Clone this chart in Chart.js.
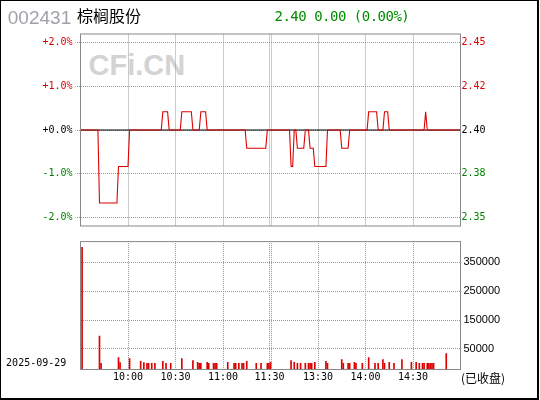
<!DOCTYPE html>
<html><head><meta charset="utf-8">
<script src="https://cdn.jsdelivr.net/npm/chart.js@4/dist/chart.umd.min.js"></script>
<style>
html,body{margin:0;padding:0;background:#fff;}
#wrap{position:relative;width:540px;height:400px;overflow:hidden;background:#fff;}
#frame{position:absolute;left:0;top:0;width:539px;height:400px;box-sizing:border-box;border:1px solid #000;border-right-width:2px;border-bottom-width:2px;pointer-events:none;}
.t{position:absolute;white-space:nowrap;}
canvas{position:absolute;left:0;}
#wm{font:bold 29px "Liberation Sans",Arial,sans-serif;line-height:29px;color:#d3d3d3;left:88.6px;top:50.5px;}
#code{font:19px "Liberation Sans",Arial,sans-serif;line-height:19px;color:#a0a0a8;left:7.8px;top:8px;}
#name{font:16px "Noto Sans CJK SC",sans-serif;line-height:16px;color:#000;left:77px;top:7.3px;}
#quote{font:14px "DejaVu Sans Mono",monospace;letter-spacing:-0.5px;line-height:14px;color:#008c00;left:274.5px;top:8.85px;}
#date{font:10px "DejaVu Sans Mono",monospace;line-height:10px;color:#000;left:6.1px;top:358.2px;}
#closed{font:12px "Noto Sans CJK SC",sans-serif;line-height:12px;color:#000;left:461px;top:372px;}
</style></head><body>
<div id="wrap">
  <div class="t" id="wm">CFi.CN</div>
  <canvas id="pc" width="540" height="210" style="top:25px;width:540px;height:210px"></canvas>
  <canvas id="vc" width="540" height="168" style="top:232px;width:540px;height:168px"></canvas>
  <div class="t" id="code"></div>
  <div class="t" id="name"></div>
  <div class="t" id="quote"></div>
  <div class="t" id="date"></div>
  <div class="t" id="closed"></div>
  <div id="frame"></div>
</div>
<script>
// ---------------- data ----------------
const stockCode = '002431';
const stockName = '棕榈股份';
const prevClose = 2.40;
const lastPrice = 2.40;
const priceChange = 0.00;
const pctChange = 0.00;
const tradeDate = '2025-09-29';
const statusText = '(已收盘)';

// minute index from 09:30 (0) to 15:00 (240); vertices of the price line
const priceMinutes = [0,11,12,23,24,30,31,51,52,55,56,63,64,70,71,75,76,79,80,104,105,117,118,132,133,134,135,136,137,141,142,144,145,147,148,155,156,164,165,169,170,181,182,187,188,191,192,194,195,217,218,219,240];
const priceValues  = [2.40,2.40,2.36,2.36,2.38,2.38,2.40,2.40,2.41,2.41,2.40,2.40,2.41,2.41,2.40,2.40,2.41,2.41,2.40,2.40,2.39,2.39,2.40,2.40,2.38,2.38,2.40,2.40,2.39,2.39,2.40,2.40,2.39,2.39,2.38,2.38,2.40,2.40,2.39,2.39,2.40,2.40,2.41,2.41,2.40,2.40,2.41,2.41,2.40,2.40,2.41,2.40,2.40];
const avgMinutes = [0,240];
const avgValues  = [2.40,2.40];

const volMinutes = [1,12,13,24,25,31,38,40,42,43,45,47,52,54,57,64,71,74,75,76,80,81,84,85,86,93,97,98,100,102,103,105,111,114,118,119,120,133,135,137,139,142,144,145,146,148,155,156,165,166,169,170,173,174,178,182,186,188,191,192,195,198,203,209,212,214,216,217,219,220,221,222,223,231];
const volValues  = [401000,95000,400,20500,2700,17000,7000,2700,400,500,300,400,7000,300,500,17000,10400,3700,400,500,3700,300,400,500,300,3700,400,300,500,400,300,7000,400,300,500,400,3700,10400,3700,400,300,500,400,300,500,3700,7000,400,13800,300,500,400,3700,300,500,20500,400,300,13800,500,3700,400,13800,3700,3700,300,400,500,300,400,500,300,400,34000];

const xTickMinutes = [30,60,90,120,150,180,210];
const xTickLabels  = ['10:00','10:30','11:00','11:30','13:30','14:00','14:30'];
const pctTicks = [-2,-1,0,1,2];
const pctTickLabels = ['-2.0%','-1.0%','+0.0%','+1.0%','+2.0%'];
const priceTickLabels = ['2.35','2.38','2.40','2.42','2.45'];
const volTickValues = [50000,150000,250000,350000];
const volTickLabels = ['50000','150000','250000','350000'];

// ---------------- texts ----------------
document.getElementById('code').textContent = stockCode;
document.getElementById('name').textContent = stockName;
document.getElementById('quote').textContent = lastPrice.toFixed(2)+' '+priceChange.toFixed(2)+' ('+pctChange.toFixed(2)+'%)';
document.getElementById('date').textContent = tradeDate;
document.getElementById('closed').textContent = statusText;

// ---------------- styles ----------------
const RED = '#dd0000', GREEN = '#008000', GRID = '#9a9a9a', FRAME = '#888888';
const MONO = {family:'"DejaVu Sans Mono", monospace', size:10};
const SANS = {family:'"Liberation Sans", Arial, sans-serif', size:11};
const LUNCH = 120;
const PCT_SPAN = 2.19;
const VOL_MIN = -20800, VOL_MAX = 420800;
const xDots = () => ({display:false, dash:[1,1], dashOffset:0.5});
const yDots = () => ({display:false, dash:[1,1], dashOffset:0});

function buildXTicks(scale){
  const t = [];
  xTickMinutes.forEach(m => {
    if (m === LUNCH) { t.push({value:m-0.6}); t.push({value:m+0.6}); }
    else t.push({value:m});
  });
  scale.ticks = t;
}
function xLabel(value){
  const k = xTickMinutes.findIndex(m => value <= m && m - value < 0.7);
  return k < 0 ? '' : xTickLabels[k];
}
const framePlugin = {
  id:'frame',
  afterDraw(chart){
    const a = chart.chartArea, c = chart.ctx;
    c.save(); c.strokeStyle = FRAME; c.lineWidth = 1;
    c.strokeRect(a.left, a.top, a.right-a.left, a.bottom-a.top);
    c.restore();
  }
};
Chart.defaults.animation = false;

const pMin = prevClose*(1-PCT_SPAN/100), pMax = prevClose*(1+PCT_SPAN/100);
const pctColor = ctx => { const p = pctTicks[ctx.index]; return p>0?RED:(p<0?GREEN:'#000'); };

new Chart(document.getElementById('pc'), {
  type:'line',
  data:{datasets:[
    {data: priceMinutes.map((m,i)=>({x:m,y:priceValues[i]})), borderColor:RED, borderWidth:1.1, pointRadius:0, tension:0, order:0, yAxisID:'y'},
    {data: avgMinutes.map((m,i)=>({x:m,y:avgValues[i]})), borderColor:'#000', borderWidth:1, pointRadius:0, tension:0, order:1, yAxisID:'y'}
  ]},
  options:{
    responsive:false, devicePixelRatio:1, events:[],
    layout:{padding:{top:6.5,bottom:7.5,left:0,right:0}},
    plugins:{legend:{display:false},tooltip:{enabled:false}},
    scales:{
      x:{type:'linear',min:0,max:240,offset:false,
        afterBuildTicks:buildXTicks, afterFit:s=>{s.height=0;},
        ticks:{display:false,autoSkip:false},
        grid:{color:GRID,lineWidth:1,drawTicks:false},
        border:xDots()},
      y:{type:'linear',position:'left',min:pMin,max:pMax,
        afterBuildTicks:s=>{s.ticks=pctTicks.map(p=>({value:prevClose*(1+p/100)}));},
        afterFit:s=>{s.width=80.5;},
        ticks:{font:MONO,padding:3,color:pctColor,callback:(v,i)=>pctTickLabels[i]},
        grid:{color:GRID,lineWidth:1,drawTicks:true,tickLength:5,tickColor:GRID,tickBorderDash:[1,1],tickBorderDashOffset:0.5},
        border:yDots()},
      y2:{type:'linear',position:'right',min:pMin,max:pMax,
        afterBuildTicks:s=>{s.ticks=pctTicks.map(p=>({value:prevClose*(1+p/100)}));},
        afterFit:s=>{s.width=79.5;},
        ticks:{font:MONO,padding:1,color:pctColor,callback:(v,i)=>priceTickLabels[i]},
        grid:{display:false,drawTicks:false},
        border:{display:false}}
    }
  },
  plugins:[framePlugin]
});

new Chart(document.getElementById('vc'), {
  type:'bar',
  data:{datasets:[
    {data: volMinutes.map((m,i)=>({x:m,y:volValues[i]})), backgroundColor:RED, barThickness:1, base:VOL_MIN, yAxisID:'y'}
  ]},
  options:{
    responsive:false, devicePixelRatio:1, events:[],
    layout:{padding:{top:6.5,bottom:10.5,left:0,right:0}},
    plugins:{legend:{display:false},tooltip:{enabled:false}},
    scales:{
      x:{type:'linear',min:0,max:240,offset:false,
        afterBuildTicks:buildXTicks, afterFit:s=>{s.height=20;},
        ticks:{font:MONO,color:'#000',padding:2,autoSkip:false,maxRotation:0,callback:v=>xLabel(v)},
        grid:{color:GRID,lineWidth:1,drawTicks:false,offset:false},
        border:xDots()},
      y:{type:'linear',position:'left',min:VOL_MIN,max:VOL_MAX,
        afterBuildTicks:s=>{s.ticks=volTickValues.map(v=>({value:v}));},
        afterFit:s=>{s.width=80.5;},
        ticks:{display:false},
        grid:{color:GRID,lineWidth:1,drawTicks:false},
        border:yDots()},
      y2:{type:'linear',position:'right',min:VOL_MIN,max:VOL_MAX,
        afterBuildTicks:s=>{s.ticks=volTickValues.map(v=>({value:v}));},
        afterFit:s=>{s.width=79.5;},
        ticks:{font:SANS,color:'#000',padding:3,callback:(v,i)=>volTickLabels[i]},
        grid:{display:false,drawTicks:false},
        border:{display:false}}
    }
  },
  plugins:[framePlugin]
});
</script>
</body></html>
